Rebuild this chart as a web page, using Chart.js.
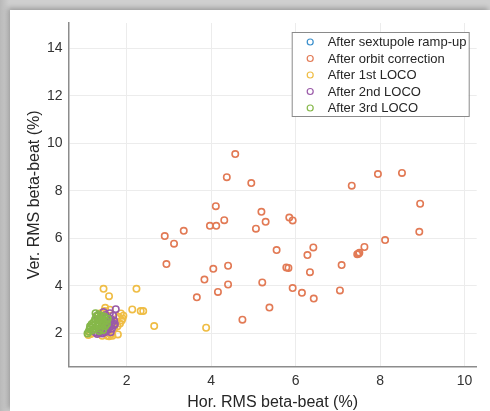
<!DOCTYPE html>
<html>
<head>
<meta charset="utf-8">
<script src="https://cdn.jsdelivr.net/npm/chart.js@4.4.1/dist/chart.umd.min.js"></script>
<style>
  html, body {
    margin: 0;
    padding: 0;
    width: 490px;
    height: 411px;
    overflow: hidden;
    background: linear-gradient(90deg, #b9b9b9 0px, #cfcfcf 9px);
  }
  .panel {
    position: absolute;
    left: 10px;
    top: 10px;
    width: 480px;
    height: 401px;
    background: #fff;
    box-shadow: -2px -2px 5px rgba(0, 0, 0, 0.25);
  }
  .wrap {
    position: absolute;
    left: 0;
    top: 0;
    width: 490px;
    height: 411px;
  }
</style>
</head>
<body>
<div class="panel"></div>
<div class="wrap"><canvas id="beat" width="490" height="411"></canvas></div>
<script>
  const seriesNames = [
    "After sextupole ramp-up",
    "After orbit correction",
    "After 1st LOCO",
    "After 2nd LOCO",
    "After 3rd LOCO",
  ];
  const seriesColors = ["#3a8fcc", "#e27a55", "#efbd45", "#9a5aa8", "#86b84a"];

  const xTicks = [2, 4, 6, 8, 10];
  const yTicks = [2, 4, 6, 8, 10, 12, 14];

  // [hor, ver] RMS beta-beat in %
  const rampUp = [];

  const orbitCorr = [
    [4.57, 9.55], [4.37, 8.58], [4.95, 8.33], [7.33, 8.22], [7.95, 8.71],
    [8.52, 8.76], [8.95, 7.46], [8.93, 6.28], [8.12, 5.93], [7.63, 5.64],
    [7.51, 5.40], [7.46, 5.33], [7.49, 5.36], [4.11, 7.36], [4.31, 6.77],
    [3.97, 6.53], [4.12, 6.53], [3.35, 6.32], [2.90, 6.10], [3.12, 5.78],
    [2.94, 4.92], [3.84, 4.27], [3.66, 3.52], [4.05, 4.72], [4.40, 4.85],
    [4.40, 4.06], [4.16, 3.75], [4.74, 2.58], [5.19, 7.12], [5.29, 6.70],
    [5.06, 6.41], [5.55, 5.51], [5.21, 4.15], [5.38, 3.09], [5.85, 6.88],
    [5.93, 6.76], [5.78, 4.78], [5.83, 4.76], [5.93, 3.91], [6.15, 3.71],
    [6.43, 3.47], [6.42, 5.62], [6.28, 5.30], [6.34, 4.58], [7.09, 4.88],
    [7.05, 3.81],
  ];

  const loco1 = [
    [3.88, 2.24], [2.65, 2.31], [2.23, 3.88], [2.13, 3.01], [2.33, 2.94],
    [2.39, 2.94], [1.45, 3.88], [1.58, 3.57], [1.49, 3.08], [1.86, 2.84],
    [1.90, 2.63], [1.84, 2.42], [1.79, 1.96], [1.66, 1.90], [1.54, 1.90],
    [1.42, 1.90], [1.09, 1.93], [1.70, 2.21], [1.88, 2.55], [1.80, 2.70],
    [1.75, 2.48], [1.60, 3.00], [1.52, 2.75], [1.38, 2.85], [1.62, 1.95],
    [1.47, 2.95], [1.78, 2.30], [1.92, 2.75], [1.58, 1.88], [1.15, 1.98],
  ];

  const loco2 = [
    [1.25, 2.05], [1.30, 1.98], [1.35, 2.02], [1.38, 2.10], [1.42, 2.00],
    [1.45, 2.12], [1.48, 2.05], [1.52, 2.20], [1.55, 2.35], [1.58, 2.50],
    [1.60, 2.28], [1.62, 2.62], [1.65, 2.45], [1.68, 2.75], [1.70, 2.55],
    [1.74, 3.02], [1.60, 2.85], [1.50, 2.78], [1.40, 2.70], [1.45, 2.90],
    [1.55, 2.15], [1.65, 2.20], [1.72, 2.40], [1.35, 2.60], [1.30, 2.75],
    [1.48, 2.48], [1.52, 2.65], [1.42, 2.35], [1.62, 2.05], [1.70, 2.35],
  ];

  const loco3 = [
    [1.07, 2.00], [1.10, 2.08], [1.12, 2.18], [1.15, 2.25], [1.18, 2.12],
    [1.20, 2.35], [1.22, 2.48], [1.24, 2.22], [1.25, 2.60], [1.27, 2.40],
    [1.28, 2.72], [1.30, 2.30], [1.31, 2.55], [1.33, 2.80], [1.34, 2.45],
    [1.36, 2.65], [1.37, 2.20], [1.39, 2.50], [1.40, 2.75], [1.42, 2.35],
    [1.43, 2.60], [1.45, 2.45], [1.47, 2.70], [1.49, 2.30], [1.51, 2.55],
    [1.53, 2.40], [1.55, 2.62], [1.17, 2.40], [1.13, 2.30], [1.26, 2.85],
    [1.35, 2.10], [1.44, 2.15],
  ];

  const allSeries = [rampUp, orbitCorr, loco1, loco2, loco3];

  const toPoints = (arr) => arr.map(([x, y]) => ({ x, y }));

  // boxed legend inside the upper right corner of the axes
  const boxLegend = {
    id: "boxLegend",
    afterDatasetsDraw(chart) {
      const { ctx, chartArea } = chart;
      const w = 177;
      const h = 84;
      const x0 = chartArea.right - 8 - w;
      const y0 = chartArea.top + 9;
      const rowH = 16.5;
      ctx.save();
      ctx.fillStyle = "#ffffff";
      ctx.strokeStyle = "#8a8a8a";
      ctx.lineWidth = 1;
      ctx.fillRect(x0, y0, w, h);
      ctx.strokeRect(x0 + 0.5, y0 + 0.5, w, h);
      ctx.font = "13px Arial, 'Liberation Sans', sans-serif";
      ctx.textBaseline = "middle";
      ctx.textAlign = "left";
      chart.data.datasets.forEach((ds, i) => {
        const cy = y0 + 10 + i * rowH;
        ctx.beginPath();
        ctx.strokeStyle = ds.borderColor;
        ctx.lineWidth = 1.2;
        ctx.arc(x0 + 18.5, cy, 3, 0, Math.PI * 2);
        ctx.stroke();
        ctx.fillStyle = "#262626";
        ctx.fillText(ds.label, x0 + 36, cy + 0.5);
      });
      ctx.restore();
    },
  };

  const ctx = document.getElementById("beat").getContext("2d");
  new Chart(ctx, {
    type: "scatter",
    data: {
      datasets: allSeries.map((arr, i) => ({
        label: seriesNames[i],
        data: toPoints(arr),
        borderColor: seriesColors[i],
        backgroundColor: "rgba(0,0,0,0)",
        borderWidth: 1.6,
        pointRadius: 3.2,
        order: allSeries.length - i,
      })),
    },
    options: {
      responsive: false,
      animation: false,
      layout: { padding: { left: 0, right: 13.3, top: 23, bottom: 0 } },
      plugins: {
        legend: { display: false },
        tooltip: { enabled: false },
      },
      scales: {
        x: {
          type: "linear",
          min: 0.62,
          max: 10.29,
          afterBuildTicks: (s) => { s.ticks = xTicks.map((v) => ({ value: v })); },
          afterFit: (s) => { s.height = 44.3; },
          grid: { color: "#ececec", drawTicks: false },
          border: { color: "#8c8c8c", width: 1.5 },
          ticks: {
            padding: 6,
            color: "#333",
            font: { family: "Arial, 'Liberation Sans', sans-serif", size: 14 },
          },
          title: {
            display: true,
            text: "Hor. RMS beta-beat (%)",
            color: "#262626",
            padding: { top: 0, bottom: 0 },
            font: { family: "Arial, 'Liberation Sans', sans-serif", size: 16, lineHeight: 1 },
          },
        },
        y: {
          type: "linear",
          min: 0.6,
          max: 15.07,
          afterBuildTicks: (s) => { s.ticks = yTicks.map((v) => ({ value: v })); },
          afterFit: (s) => { s.width = 68.5; },
          grid: { color: "#ececec", drawTicks: false },
          border: { color: "#8c8c8c", width: 1.5 },
          ticks: {
            padding: 6,
            color: "#333",
            font: { family: "Arial, 'Liberation Sans', sans-serif", size: 14 },
          },
          title: {
            display: true,
            text: "Ver. RMS beta-beat (%)",
            color: "#262626",
            padding: { top: 27, bottom: 0 },
            font: { family: "Arial, 'Liberation Sans', sans-serif", size: 16, lineHeight: 1 },
          },
        },
      },
    },
    plugins: [boxLegend],
  });
</script>
</body>
</html>
